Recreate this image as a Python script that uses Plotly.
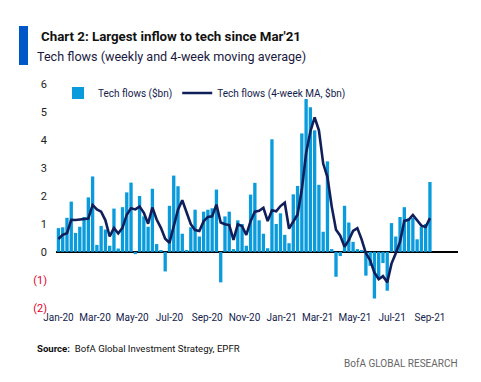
import pandas as pd
import plotly.graph_objects as go

# ---- data ----
weeks = pd.date_range("2020-01-01", periods=88, freq="7D")
tech_flows = [
    0.85, 0.88, 1.22, 1.80, 0.68, 0.90, 1.25, 1.95, 2.70, 0.25,
    0.93, 0.80, 0.22, 1.55, 0.12, 1.60, 2.13, 2.48, -0.08, 2.00,
    1.27, 0.90, 2.26, 0.28, 0.05, -0.70, 1.65, 2.73, 2.35, 0.65,
    0.07, 0.88, 1.51, 0.55, 1.44, 1.51, 1.56, 2.23, -1.09, 1.27,
    1.44, 0.10, 1.13, 1.00, 0.22, 2.05, 2.47, 1.13, 0.65, 0.13,
    4.03, 1.00, 1.38, 0.61, 0.31, 2.06, 2.36, 4.24, 5.47, 5.18,
    4.35, 2.40, 0.72, 3.24, 0.10, -0.89, -0.15, 1.65, 1.05, 0.36,
    0.10, 0.05, -0.85, -0.50, -1.67, -0.90, -0.40, -1.39, 1.03, 0.55,
    1.25, 1.60, 1.20, 1.22, 0.45, 0.90, 1.00, 2.50,
]
tech_ma4 = [
    0.46, 0.61, 0.67, 1.15, 1.14, 1.15, 1.16, 1.19, 1.68, 1.52,
    1.44, 1.13, 0.55, 0.86, 0.66, 0.86, 1.33, 1.56, 1.52, 1.62,
    1.40, 1.01, 1.59, 1.16, 0.86, 0.47, 0.32, 0.93, 1.51, 1.85,
    1.45, 0.99, 0.78, 0.75, 1.10, 1.25, 1.27, 1.69, 1.05, 0.99,
    0.96, 0.43, 0.99, 0.92, 0.61, 1.10, 1.44, 1.47, 1.58, 1.10,
    1.49, 1.45, 1.64, 1.76, 0.83, 1.09, 1.34, 2.24, 3.53, 4.31,
    4.81, 4.35, 3.16, 2.68, 1.62, 0.79, 0.58, 0.18, 0.42, 0.75,
    0.85, 0.45, -0.05, -0.30, -0.74, -0.98, -0.87, -1.09, -0.42, -0.05,
    0.36, 1.11, 1.15, 1.32, 1.12, 0.94, 0.89, 1.21,
]
y_tickvals = [6, 5, 4, 3, 2, 1, 0, -1, -2]
y_ticktext = ["6", "5", "4", "3", "2", "1", "0",
              '<span style="color:#E4002B">(1)</span>',
              '<span style="color:#E4002B">(2)</span>']

# ---- layout helpers (page body adds an 8px offset) ----
OFF = 8
W, H = 481 - OFF, 382 - OFF
ML, MR, MT, MB = 56 - OFF, 23, 82 - OFF, 72
PW, PH = W - ML - MR, H - MT - MB


def px(x):
    return (x - OFF - ML) / PW


def py(y):
    return (H - MB - (y - OFF)) / PH


FONT = "Roboto, Liberation Sans, sans-serif"
NAVY = "#141B4D"

fig = go.Figure()
fig.add_trace(go.Bar(
    x=weeks, y=tech_flows, name="Tech flows ($bn)",
    marker=dict(color="#0A9BDC", line=dict(width=0)),
))
fig.add_trace(go.Scatter(
    x=weeks, y=tech_ma4, name="Tech flows (4-week MA, $bn)",
    mode="lines", line=dict(color="#101E5A", width=2.6),
))

fig.update_layout(
    width=W, height=H,
    margin=dict(l=ML, r=MR, t=MT, b=MB, autoexpand=False),
    paper_bgcolor="white", plot_bgcolor="white",
    font=dict(family=FONT, size=11, color=NAVY),
    bargap=0.22,
    showlegend=True,
    legend=dict(
        orientation="h", x=px(58), y=py(93), xanchor="left", yanchor="middle",
        bgcolor="rgba(0,0,0,0)", font=dict(size=10, color=NAVY),
        tracegroupgap=0, itemwidth=30,
    ),
    xaxis=dict(
        type="date", range=["2019-12-28", "2021-10-17"],
        tickformat="%b-%y", dtick="M2", tick0="2020-01-01",
        showgrid=False, zeroline=False, showline=False, ticks="",
        tickangle=0, automargin=False,
        tickfont=dict(size=10, color=NAVY),
    ),
    yaxis=dict(
        range=[-2.08, 6.08], tickvals=y_tickvals, ticktext=y_ticktext,
        showgrid=False, zeroline=True, zerolinecolor="black", zerolinewidth=1.5,
        showline=False, ticks="", tickfont=dict(size=11, color="#222222"),
        ticklabelstandoff=8, automargin=False,
    ),
)

fig.add_shape(type="rect", xref="paper", yref="paper",
              x0=px(19), x1=px(28), y0=py(65), y1=py(26),
              fillcolor="#0057C8", line=dict(width=0))

anns = [
    dict(x=px(39), y=py(37), text="<b>Chart 2: Largest inflow to tech since Mar'21</b>",
         font=dict(size=13.3, color="#111111")),
    dict(x=px(35), y=py(56.5), text="Tech flows (weekly and 4-week moving average)",
         font=dict(size=12.6, color="#1A1A40")),
    dict(x=px(35), y=py(348), text="<b>Source:</b>  BofA Global Investment Strategy, EPFR",
         font=dict(size=9.6, color="#111111")),
]
for a in anns:
    fig.add_annotation(xref="paper", yref="paper", xanchor="left", yanchor="middle",
                       showarrow=False, **a)
fig.add_annotation(xref="paper", yref="paper", x=px(460), y=py(363),
                   xanchor="right", yanchor="middle", showarrow=False,
                   text="BofA GLOBAL RESEARCH", font=dict(size=10, color="#666666"))

fig.write_html("out.html")
